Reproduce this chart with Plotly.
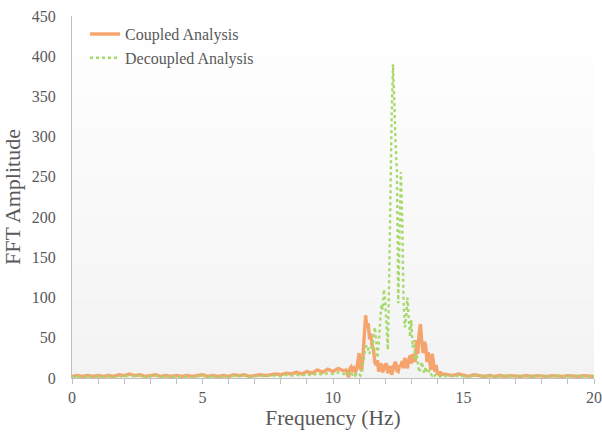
import numpy as np
import plotly.graph_objects as go

# Frequency bins (Hz): coarse below and above the resonance band, fine inside it
freq_low = np.round(np.arange(0.0, 10.41, 0.2), 2)
freq_mid = np.round(np.arange(10.5, 14.201, 0.05), 2)
freq_high = np.round(np.arange(14.4, 20.001, 0.2), 2)

coupled_low = [2, 3, 2, 3, 2, 3, 2, 3, 2, 4,
               3, 5, 3, 4, 2, 3, 4, 2, 3, 2,
               3, 2, 3, 2, 3, 4, 2, 3, 2, 3,
               2, 4, 3, 4, 2, 3, 4, 3, 4, 5,
               4, 6, 5, 7, 5, 8, 6, 10, 7, 11,
               8, 12, 9]
coupled_mid = [10, 6, 1, 12, 14, 10, 12, 8, 10, 20,
               31, 12, 9, 28, 62, 78, 62, 68, 48, 55,
               40, 36, 20, 16, 22, 8, 16, 18, 7, 12,
               16, 18, 6, 10, 15, 4, 12, 17, 20, 9,
               8, 16, 14, 21, 12, 25, 19, 12, 22, 28,
               18, 30, 24, 20, 47, 30, 55, 67, 45, 31,
               45, 41, 20, 32, 22, 10, 30, 16, 8, 16,
               6, 5, 8, 4, 5]
coupled_high = [4, 3, 5, 3, 2, 4, 3, 2, 3, 2,
                3, 2, 3, 2, 2, 3, 2, 3, 2, 2,
                3, 2, 2, 3, 2, 2, 3, 2, 2]

decoupled_low = [1, 2, 1, 2, 1, 2, 1, 2, 1, 2,
                 2, 3, 2, 3, 1, 2, 3, 1, 2, 1,
                 2, 1, 2, 1, 2, 3, 1, 2, 1, 2,
                 1, 3, 2, 3, 1, 2, 3, 2, 3, 3,
                 2, 4, 3, 4, 3, 5, 3, 6, 4, 6,
                 5, 7, 5]
decoupled_mid = [5, 4, 6, 3, 5, 4, 6, 3, 5, 3,
                 4, 3, 8, 18, 30, 38, 41, 36, 30, 39,
                 35, 48, 63, 50, 25, 41, 70, 91, 85, 110,
                 95, 60, 35, 120, 250, 330, 390, 320, 290, 256,
                 93, 180, 256, 200, 100, 63, 75, 100, 70, 51,
                 72, 38, 47, 22, 30, 20, 7, 12, 20, 12,
                 6, 14, 8, 6, 10, 5, 3, 5, 3, 4,
                 3, 4, 2, 3, 2]
decoupled_high = [3, 2, 3, 2, 2, 3, 2, 2, 3, 2,
                  2, 3, 2, 2, 3, 2, 2, 2, 3, 2,
                  2, 3, 2, 2, 2, 3, 2, 2, 2]

freq = np.concatenate([freq_low, freq_mid, freq_high])
coupled = coupled_low + coupled_mid + coupled_high
decoupled = decoupled_low + decoupled_mid + decoupled_high

x_ticks = [0, 5, 10, 15, 20]
y_ticks = [0, 50, 100, 150, 200, 250, 300, 350, 400, 450]

FONT = "Liberation Serif, Times New Roman, serif"
TEXT = "#595959"
AXIS = "#bfbfbf"

fig = go.Figure()
fig.add_trace(go.Scatter(
    x=freq, y=coupled, mode="lines", name="Coupled Analysis",
    line=dict(color="#f4a46c", width=3.4),
))
fig.add_trace(go.Scatter(
    x=freq, y=decoupled, mode="lines", name="Decoupled Analysis",
    line=dict(color="#a6d96a", width=2.4, dash="dot"),
))

# soft vertical gradient behind the plot area: white at top, light grey at bottom
n_bands = 40
for i in range(n_bands):
    t = i / (n_bands - 1)
    c = int(round(243 + (255 - 243) * t))
    fig.add_shape(type="rect", xref="paper", yref="paper",
                  x0=0, x1=1, y0=i / n_bands, y1=(i + 1) / n_bands,
                  fillcolor=f"rgb({c},{c},{c})", line=dict(width=0),
                  layer="below")

fig.update_layout(
    width=602, height=432,
    margin=dict(l=72, r=8, t=16, b=54, autoexpand=False),
    paper_bgcolor="white",
    plot_bgcolor="rgba(0,0,0,0)",
    font=dict(family=FONT, color=TEXT, size=15),
    showlegend=True,
    legend=dict(x=0.025, y=0.997, xanchor="left", yanchor="top",
                bgcolor="rgba(0,0,0,0)", font=dict(size=16, color=TEXT),
                itemwidth=30, tracegroupgap=0),
    xaxis=dict(
        range=[0, 20], tickvals=x_ticks, ticktext=[str(v) for v in x_ticks],
        automargin=False,
        showgrid=False, zeroline=False, showline=True, linecolor=AXIS, linewidth=1,
        ticks="outside", ticklen=5, tickcolor=AXIS,
        minor=dict(dtick=1, ticks="outside", ticklen=5, tickcolor=AXIS, showgrid=False),
        tickfont=dict(size=16, color=TEXT),
        title=dict(text="Frequency (Hz)", font=dict(size=21.5, color=TEXT), standoff=4),
    ),
    yaxis=dict(
        range=[0, 450], tickvals=y_ticks, ticktext=[str(v) for v in y_ticks],
        automargin=False,
        showgrid=False, zeroline=False, showline=True, linecolor=AXIS, linewidth=1,
        ticks="", ticklabelstandoff=12,
        tickfont=dict(size=16, color=TEXT),
        title=dict(text="FFT Amplitude", font=dict(size=22, color=TEXT), standoff=6),
    ),
)

fig.write_html("out.html")
